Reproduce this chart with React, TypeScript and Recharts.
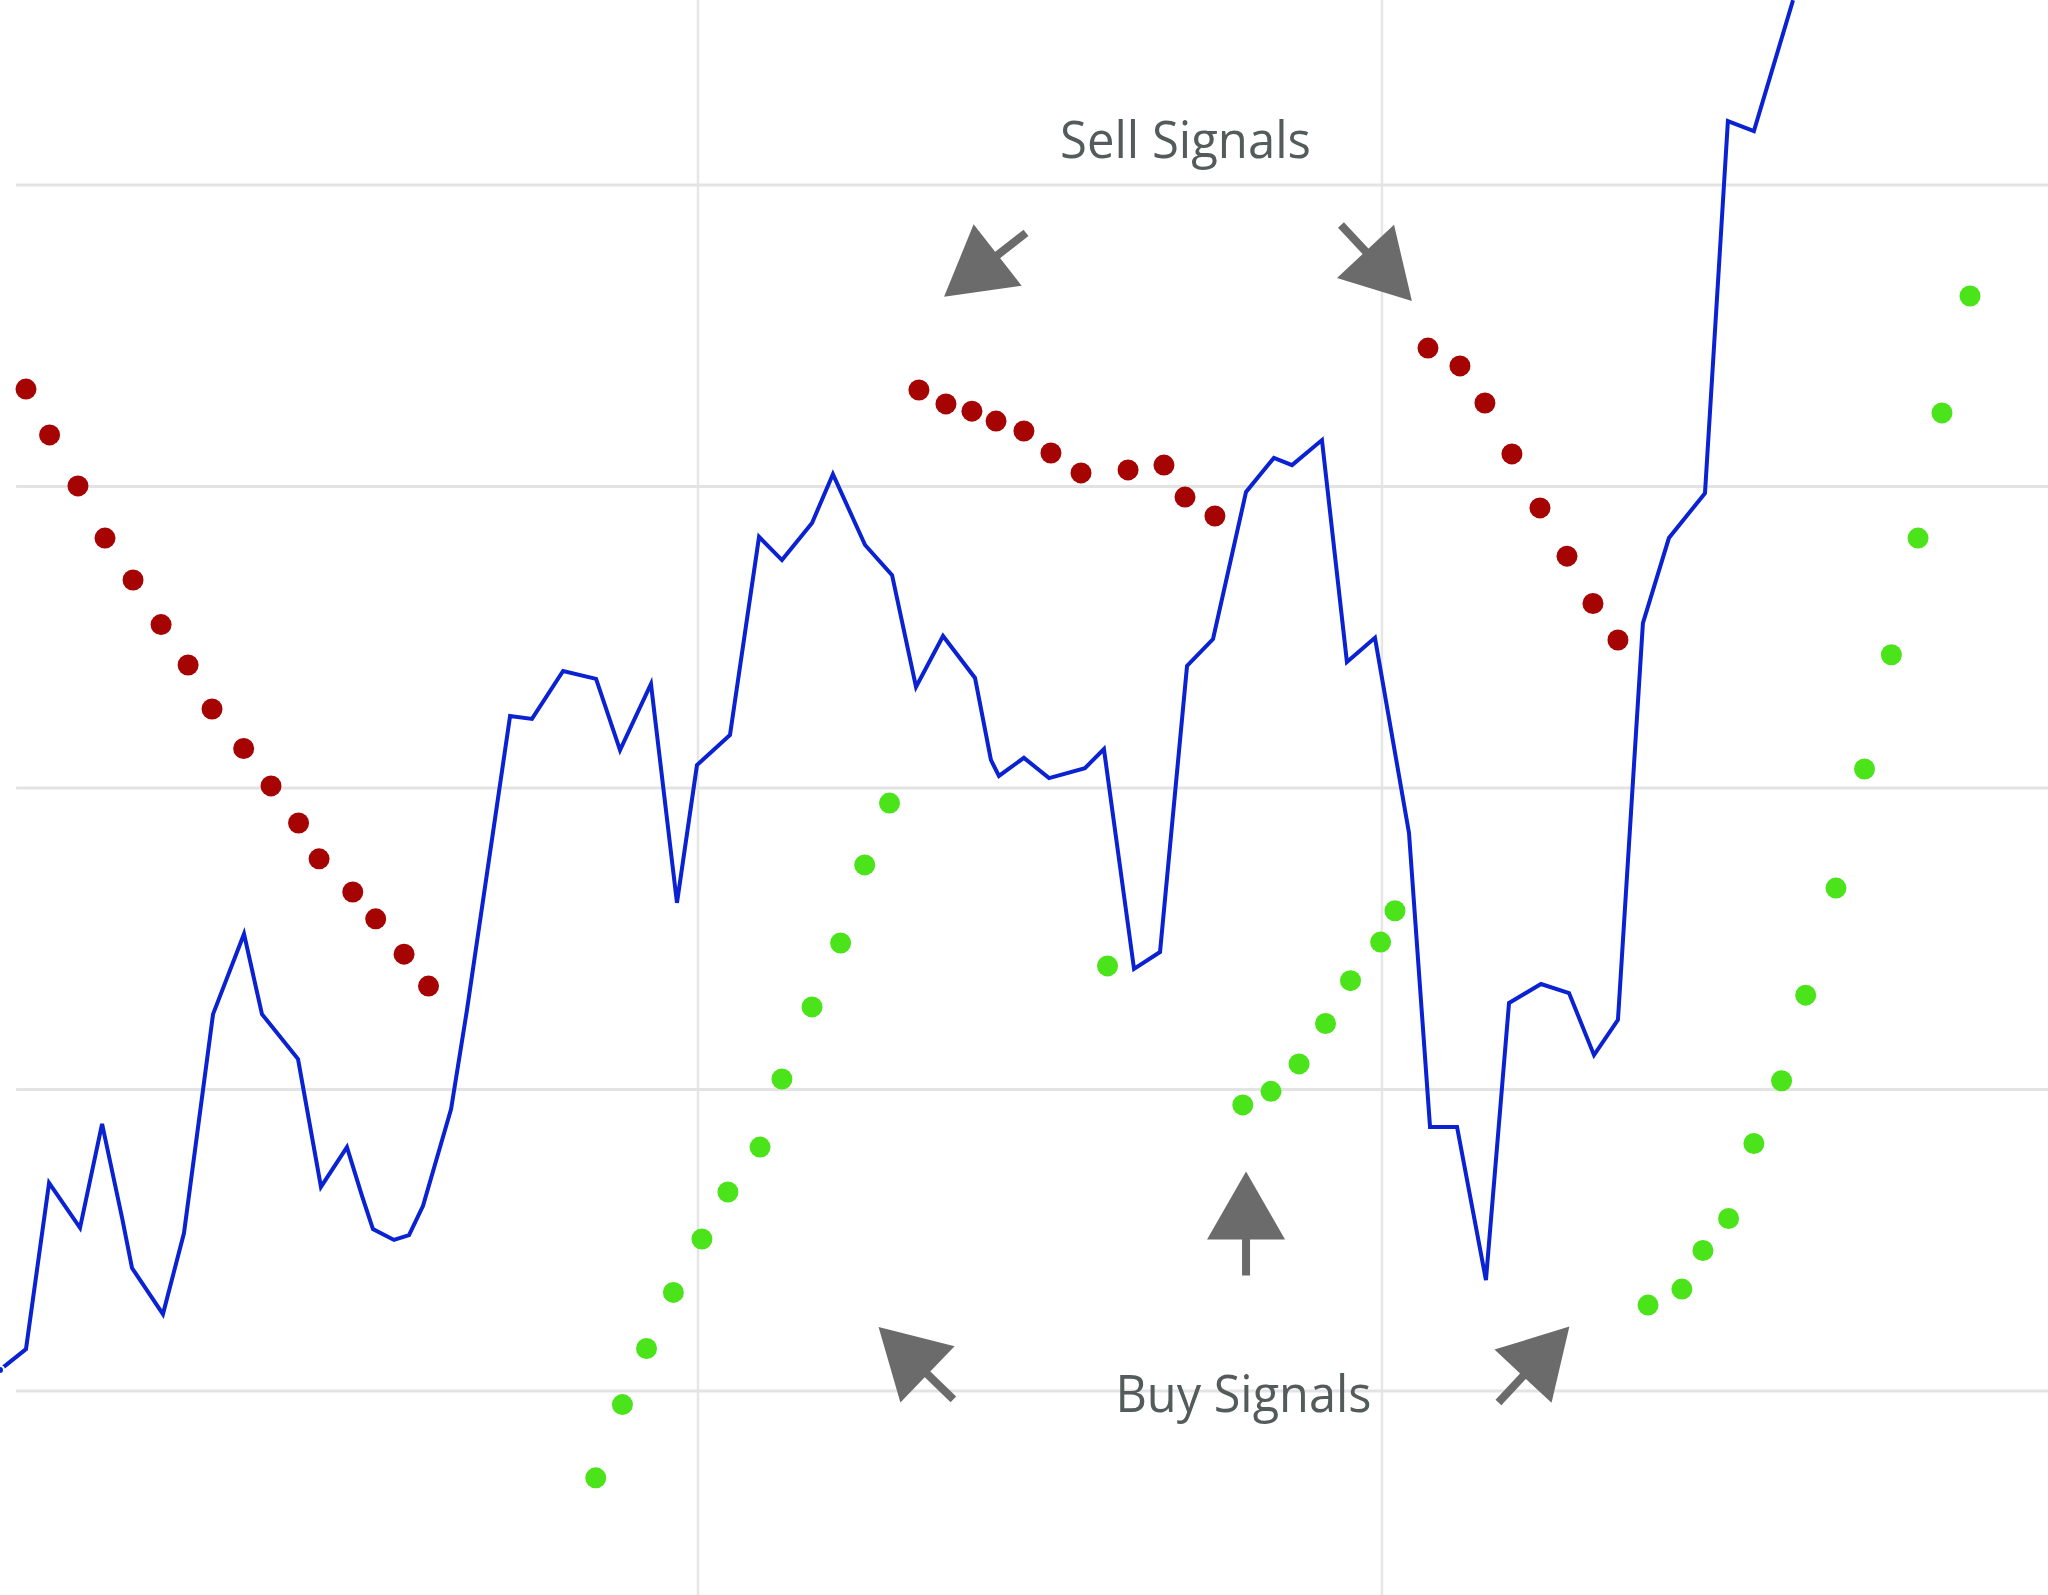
import React from "react";
import {
  ComposedChart,
  Line,
  Scatter,
  XAxis,
  YAxis,
  ReferenceLine,
  ReferenceDot,
} from "recharts";

// price path (x = trading day, y = price)
const priceX = [
  -0.82, 0.7, 2.05, 3.86, 5.15, 6.32, 6.9, 8.71, 9.94, 11.64, 13.45, 14.5, 16.61, 17.95, 19.47, 20.35,
  20.99, 22.22, 23.1, 23.92, 25.56, 26.49, 29.01, 30.29, 32.11, 34.04, 35.44, 37.25, 38.77, 39.94, 41.87,
  43.57, 44.91, 46.67, 47.89, 49.77, 51.35, 52.75, 54.33, 56.2, 57.13, 57.6, 59.06, 60.53, 62.63, 63.74,
  65.5, 67.02, 68.6, 70.12, 72.05, 73.68, 74.74, 76.49, 77.95, 79.59, 81.58, 82.81, 84.39, 86.08, 87.43,
  89.3, 90.94, 92.4, 93.8, 95.26, 96.78, 98.89, 100.23, 101.75, 104.04,
];
const priceY = [
  10.7, 11.39, 16.9, 15.41, 18.86, 15.74, 14.08, 12.55, 15.24, 22.5, 25.16, 22.5, 21.01, 16.77, 18.09, 16.47,
  15.37, 15.01, 15.17, 16.14, 19.35, 22.64, 32.39, 32.29, 33.88, 33.62, 31.26, 33.45, 26.19, 30.76, 31.76,
  38.33, 37.56, 38.79, 40.41, 38.06, 37.06, 33.35, 35.04, 33.65, 30.93, 30.4, 31.0, 30.33, 30.66, 31.29,
  24.0, 24.56, 34.05, 34.94, 39.82, 40.95, 40.71, 41.54, 34.18, 34.98, 28.51, 18.76, 18.76, 13.68, 22.87,
  23.5, 23.2, 21.14, 22.31, 35.47, 38.29, 39.78, 52.12, 51.79, 56.13,
];

// parabolic SAR above price (sell)
const sellX = [
  0.7, 2.08, 3.74, 5.32, 6.96, 8.6, 10.18, 11.58, 13.43, 15.03, 16.64, 17.84, 19.81, 21.15, 22.81, 24.24,
  52.92, 54.5, 56.02, 57.43, 59.06, 60.64, 62.4, 65.15, 67.25, 68.48, 70.23,
  82.69, 84.56, 86.02, 87.6, 89.24, 90.82, 92.34, 93.8,
];
const sellY = [
  43.23, 41.71, 40.02, 38.29, 36.9, 35.42, 34.08, 32.62, 31.31, 30.07, 28.84, 27.65, 26.55, 25.66, 24.49, 23.43,
  43.2, 42.74, 42.5, 42.17, 41.84, 41.11, 40.45, 40.55, 40.71, 39.65, 39.02,
  44.59, 44.0, 42.77, 41.08, 39.29, 37.69, 36.12, 34.91,
];

// parabolic SAR below price (buy)
const buyX = [
  34.02, 35.58, 36.99, 38.56, 40.23, 41.75, 43.63, 44.91, 46.67, 48.34, 49.75, 51.2,
  63.95, 71.86, 73.51, 75.15, 76.7, 78.16, 79.92, 80.76,
  95.56, 97.54, 98.77, 100.27, 101.75, 103.37, 104.78, 106.55, 108.22, 109.79, 111.35, 112.75, 114.39,
];
const buyY = [
  7.12, 9.55, 11.41, 13.27, 15.04, 16.6, 18.09, 20.35, 22.74, 24.86, 27.45, 29.5,
  24.1, 19.49, 19.94, 20.85, 22.19, 23.61, 24.89, 25.93,
  12.85, 13.38, 14.66, 15.72, 18.21, 20.29, 23.13, 26.68, 30.63, 34.42, 38.29, 42.44, 46.32,
];

const gridPrices = [10, 20, 30, 40, 50];
const gridDays = [40, 80];

// annotation arrows: tip position and pointing direction
const arrowX = [54.39, 81.75, 72.05, 50.56, 90.96];
const arrowY = [46.29, 46.15, 17.28, 12.12, 12.14];
const arrowAngle = [142, 47, -90, -136, -47];

const labelText = ["Sell Signals", "Buy Signals"];
const labelX = [61.17, 64.41];
const labelY = [50.9, 9.3];

const X_DOMAIN: [number, number] = [-0.82, 118.95];
const Y_DOMAIN: [number, number] = [3.234, 56.136];

const priceData = priceX.map((x, i) => ({ x, y: priceY[i] }));
const sellData = sellX.map((x, i) => ({ x, y: sellY[i] }));
const buyData = buyX.map((x, i) => ({ x, y: buyY[i] }));

const dot = (color: string) => (props: any) =>
  <circle cx={props.cx} cy={props.cy} r={10.5} fill={color} />;

const Arrow = ({ cx, cy, angle }: { cx: number; cy: number; angle: number }) => (
  <g transform={`translate(${cx},${cy}) rotate(${angle})`}>
    <rect x={-104} y={-4} width={38} height={8} fill="#6b6b6b" />
    <polygon points="0,0 -68,-39 -68,39" fill="#6b6b6b" />
  </g>
);

const App: React.FC = () => {
  return (
    <div style={{ position: "absolute", left: 0, top: 0, width: 2048, height: 1595, background: "#fff" }}>
      <ComposedChart width={2048} height={1595} margin={{ top: 0, right: 0, bottom: 0, left: 0 }}>
        <XAxis type="number" dataKey="x" domain={X_DOMAIN} allowDataOverflow hide />
        <YAxis type="number" dataKey="y" domain={Y_DOMAIN} allowDataOverflow hide />
        {gridDays.map((d) => (
          <ReferenceLine key={`v${d}`} x={d} stroke="#e6e6e6" strokeWidth={2.5} />
        ))}
        {gridPrices.map((p) => (
          <ReferenceLine
            key={`h${p}`}
            segment={[{ x: 0.12, y: p }, { x: X_DOMAIN[1], y: p }]}
            stroke="#e3e3e3"
            strokeWidth={3}
          />
        ))}
        <Line
          data={priceData}
          dataKey="y"
          type="linear"
          stroke="#0a22d2"
          strokeWidth={4}
          dot={false}
          isAnimationActive={false}
        />
        <Scatter data={sellData} dataKey="y" shape={dot("#a60303")} isAnimationActive={false} />
        <Scatter data={buyData} dataKey="y" shape={dot("#4be31a")} isAnimationActive={false} />
        {arrowX.map((x, i) => (
          <ReferenceDot
            key={`a${i}`}
            x={x}
            y={arrowY[i]}
            r={0}
            shape={(p: any) => <Arrow cx={p.cx} cy={p.cy} angle={arrowAngle[i]} />}
          />
        ))}
        {labelText.map((t, i) => (
          <ReferenceDot
            key={`l${i}`}
            x={labelX[i]}
            y={labelY[i]}
            r={0}
            shape={(p: any) => (
              <text
                x={p.cx}
                y={p.cy}
                fill="#535b5b"
                fontSize={52}
                fontFamily="'Open Sans', sans-serif"
                textLength={i === 0 ? 251 : 256}
                lengthAdjust="spacingAndGlyphs"
              >
                {t}
              </text>
            )}
          />
        ))}
      </ComposedChart>
    </div>
  );
};

export default App;
